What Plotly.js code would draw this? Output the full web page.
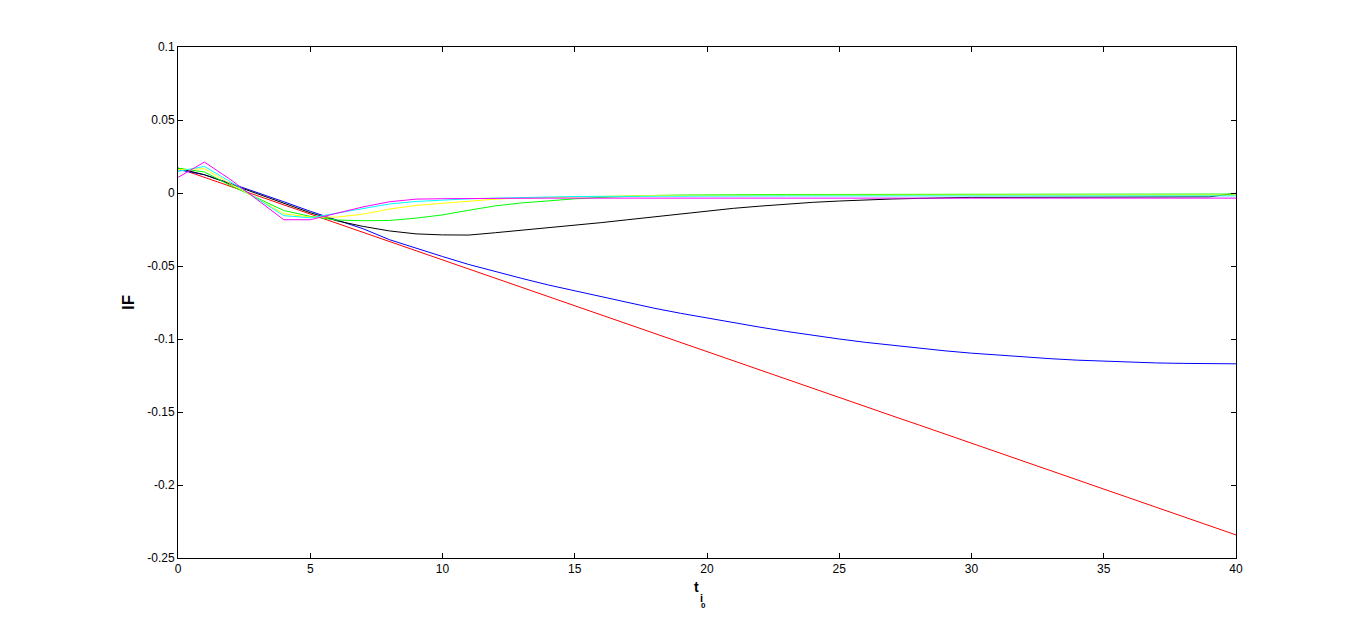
<!DOCTYPE html>
<html>
<head>
<meta charset="utf-8">
<script src="https://cdn.plot.ly/plotly-3.0.1.min.js"></script>
<style>
  body { margin: 0; background: #fff; }
  #chart { width: 1366px; height: 628px; }
</style>
</head>
<body>
<div id="chart"></div>
<script>
// time steps t_i0 = 0..40
let tSteps = [];
for (let i = 0; i <= 40; i++) tSteps.push(i);

// series
let redIF = [0.017, 0.0107, 0.0044, -0.0018, -0.0081, -0.0144, -0.0207, -0.027, -0.0332, -0.0395,
  -0.0458, -0.0521, -0.0584, -0.0646, -0.0709, -0.0772, -0.0835, -0.0898, -0.096, -0.1023,
  -0.1086, -0.1149, -0.1212, -0.1274, -0.1337, -0.14, -0.1463, -0.1526, -0.1588, -0.1651,
  -0.1714, -0.1777, -0.184, -0.1902, -0.1965, -0.2028, -0.2091, -0.2154, -0.2216, -0.2279, -0.2342];

let blueIF = [0.016, 0.0125, 0.0065, 0.0005, -0.006, -0.0125, -0.0185, -0.0245, -0.032, -0.038,
  -0.0435, -0.049, -0.054, -0.0585, -0.063, -0.067, -0.0712, -0.0752, -0.0789, -0.0824,
  -0.0857, -0.0889, -0.0919, -0.0948, -0.0975, -0.1, -0.1023, -0.1044, -0.1063, -0.1081,
  -0.1097, -0.1111, -0.1124, -0.1135, -0.1145, -0.1153, -0.1159, -0.1164, -0.1167, -0.1169, -0.117];

let blackIF = [0.017, 0.0125, 0.006, -0.0005, -0.007, -0.0135, -0.019, -0.0229, -0.026, -0.028,
  -0.0287, -0.0288, -0.0272, -0.0256, -0.0238, -0.0222, -0.0203, -0.0183, -0.0163, -0.0143,
  -0.0123, -0.0105, -0.009, -0.0076, -0.0064, -0.0055, -0.0047, -0.0041, -0.0037, -0.0032,
  -0.003, -0.003, -0.003, -0.003, -0.003, -0.003, -0.003, -0.003, -0.003, -0.0026, -0.0002];

let greenIF = [0.017, 0.0144, 0.005, -0.0035, -0.012, -0.016, -0.0185, -0.019, -0.0188, -0.0172,
  -0.015, -0.0118, -0.0088, -0.0068, -0.0053, -0.004, -0.003, -0.0022, -0.0017, -0.0014,
  -0.0012, -0.001, -0.001, -0.001, -0.001, -0.001, -0.0009, -0.0009, -0.0009, -0.0008,
  -0.0008, -0.0008, -0.0008, -0.0008, -0.0007, -0.0007, -0.0007, -0.0007, -0.0007, -0.0007, -0.0007];

let yellowIF = [0.016, 0.0166, 0.0062, -0.004, -0.0142, -0.0165, -0.0165, -0.0145, -0.011, -0.0085,
  -0.007, -0.0055, -0.0042, -0.0035, -0.003, -0.0025, -0.0021, -0.0019, -0.0017, -0.0016,
  -0.0016, -0.0015, -0.0015, -0.0015, -0.0015, -0.0015, -0.0015, -0.0014, -0.0014, -0.0014,
  -0.0014, -0.0014, -0.0014, -0.0014, -0.0014, -0.0014, -0.0014, -0.0014, -0.0014, -0.0014, -0.0014];

let cyanIF = [0.0148, 0.0182, 0.0075, -0.004, -0.0155, -0.017, -0.014, -0.011, -0.0075, -0.0058,
  -0.0048, -0.004, -0.0035, -0.003, -0.0027, -0.0024, -0.0023, -0.0022, -0.0022, -0.0021,
  -0.0021, -0.0021, -0.002, -0.002, -0.002, -0.002, -0.002, -0.002, -0.002, -0.002,
  -0.002, -0.002, -0.002, -0.002, -0.002, -0.002, -0.002, -0.002, -0.002, -0.002, -0.002];

let magentaIF = [0.0107, 0.0212, 0.009, -0.0047, -0.0183, -0.0183, -0.014, -0.0095, -0.006, -0.0042,
  -0.0039, -0.0037, -0.0036, -0.0035, -0.0035, -0.0035, -0.0035, -0.0035, -0.0035, -0.0035,
  -0.0035, -0.0035, -0.0035, -0.0035, -0.0035, -0.0035, -0.0035, -0.0035, -0.0035, -0.0035,
  -0.0035, -0.0035, -0.0035, -0.0035, -0.0035, -0.0035, -0.0035, -0.0035, -0.0035, -0.0035, -0.0035];

let xTicks = [0, 5, 10, 15, 20, 25, 30, 35, 40];
let yTicks = [0.1, 0.05, 0, -0.05, -0.1, -0.15, -0.2, -0.25];
let yTickText = ["0.1", "0.05", "0", "-0.05", "-0.1", "-0.15", "-0.2", "-0.25"];

//one line trace per colour
function line(y, colour) {
  return {x: tSteps, y: y, type: "scatter", mode: "lines",
    line: {color: colour, width: 1}, hoverinfo: "skip"};
}

let data = [
  line(redIF, "#ff0000"),
  line(blueIF, "#0000ff"),
  line(blackIF, "#000000"),
  line(greenIF, "#00ff00"),
  line(yellowIF, "#ffff00"),
  line(cyanIF, "#00ffff"),
  line(magentaIF, "#ff00ff")
];

let axisFont = {family: "Liberation Sans Narrow, Liberation Sans, Arial", size: 12, color: "#000"};
let boldFont = (size) => ({family: "Liberation Sans, Arial", size: size, color: "#000", weight: "bold"});

// x title t_(i_0): drawn as three pieces so the 0 sits below the i
function titlePiece(text, x, y, size) {
  return {text: text, xref: "paper", yref: "paper", x: x, y: y, xanchor: "left", yanchor: "middle",
    showarrow: false, font: boldFont(size)};
}

let layout = {
  width: 1366, height: 628,
  margin: {l: 178, r: 130, t: 47, b: 70},
  paper_bgcolor: "#ffffff",
  plot_bgcolor: "#ffffff",
  showlegend: false,
  xaxis: {
    range: [0, 40], tickvals: xTicks, ticks: "inside", ticklen: 5, tickcolor: "#000",
    showgrid: false, zeroline: false, showline: true, linecolor: "#000", linewidth: 1,
    mirror: "allticks", tickfont: axisFont
  },
  yaxis: {
    range: [-0.25, 0.1], tickvals: yTicks, ticktext: yTickText, ticks: "inside", ticklen: 5, tickcolor: "#000",
    showgrid: false, zeroline: false, showline: true, linecolor: "#000", linewidth: 1,
    mirror: "allticks", tickfont: axisFont,
    title: {text: "IF", font: boldFont(17), standoff: 8}
  },
  annotations: [
    titlePiece("t", 0.4855, -0.0568, 14),
    titlePiece("i", 0.4912, -0.0783, 11),
    titlePiece("0", 0.4925, -0.0939, 8)
  ]
};

Plotly.newPlot("chart", data, layout, {displayModeBar: false, staticPlot: true});
</script>
</body>
</html>
